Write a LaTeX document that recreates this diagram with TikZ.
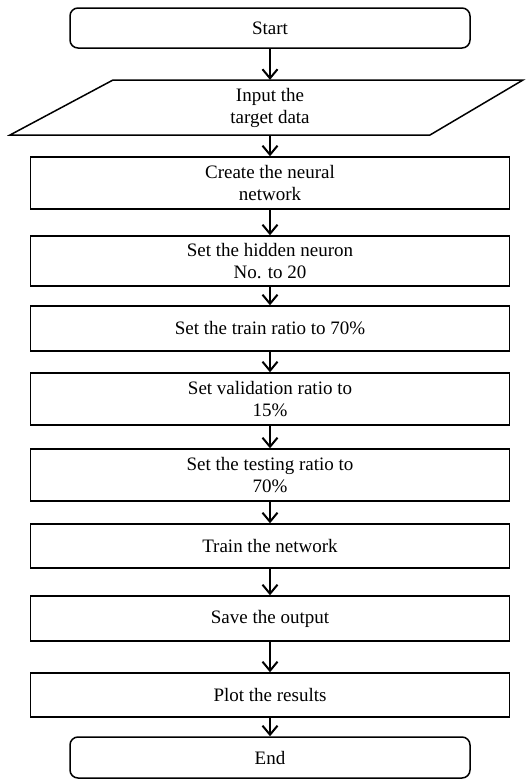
\documentclass[tikz,border=0pt]{standalone}
\usepackage{fontspec}
\setmainfont{Liberation Serif}
\usetikzlibrary{arrows.meta}
\begin{document}
\begin{tikzpicture}[x=1pt,y=-1pt,
  txt/.style={align=center, inner sep=0pt, font=\fontsize{19}{22}\selectfont},
  box/.style={txt, draw, line width=1.5pt, minimum width=479pt},
  term/.style={box, rounded corners=8pt, minimum width=400pt},
  flow/.style={line width=2pt, -{Straight Barb[length=9pt,width=15pt]}}]
\useasboundingbox (0,0) rectangle (526,780);
\node[term, minimum height=40pt] (start) at (270,28) {Start};
\draw[line width=1.5pt] (113,80) -- (523,80) -- (430,135) -- (10,135) -- cycle;
\node[txt, minimum height=55pt] (inp) at (270,107.5) {Input the\\target data};
\node[box, minimum height=52pt] (create) at (270,183) {Create the neural\\network};
\node[box, minimum height=50pt] (hidden) at (270,261) {Set the hidden neuron\\No. to 20};
\node[box, minimum height=45pt] (train) at (270,328.5) {Set the train ratio to 70\%};
\node[box, minimum height=52pt] (valid) at (270,399) {Set validation ratio to\\15\%};
\node[box, minimum height=52pt] (test) at (270,475) {Set the testing ratio to\\70\%};
\node[box, minimum height=44pt] (net) at (270,546) {Train the network};
\node[box, minimum height=45pt] (save) at (270,618.5) {Save the output};
\node[box, minimum height=44pt] (plot) at (270,695) {Plot the results};
\node[term, minimum height=41pt] (end) at (270,757.5) {End};
\draw[flow] (start.south) -- (inp.north);
\draw[flow] (inp.south) -- (create.north);
\draw[flow] (create.south) -- (hidden.north);
\draw[flow] (hidden.south) -- (train.north);
\draw[flow] (train.south) -- (valid.north);
\draw[flow] (valid.south) -- (test.north);
\draw[flow] (test.south) -- (net.north);
\draw[flow] (net.south) -- (save.north);
\draw[flow] (save.south) -- (plot.north);
\draw[flow] (plot.south) -- (end.north);
\end{tikzpicture}
\end{document}
